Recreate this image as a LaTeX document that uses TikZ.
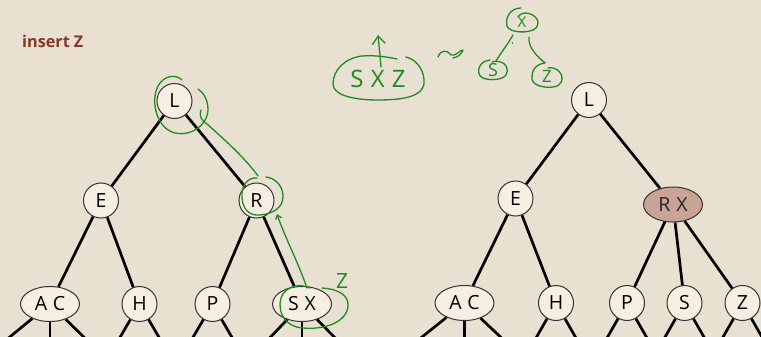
\documentclass[tikz,border=0pt]{standalone}
\usepackage{fontspec}
\setmainfont{Open Sans}
\usetikzlibrary{shapes.geometric,arrows.meta}
\definecolor{bg}{RGB}{232,224,208}
\definecolor{nodefill}{RGB}{245,238,225}
\definecolor{rxfill}{RGB}{200,163,150}
\definecolor{titlered}{RGB}{139,52,40}
\definecolor{ink}{RGB}{30,140,30}
\begin{document}
\begin{tikzpicture}[x=1pt,y=-1pt,
  key/.style={circle,draw=black!80,line width=1pt,fill=nodefill,minimum size=35pt,inner sep=0pt,font=\fontsize{19.5}{20}\selectfont},
  keys/.style={ellipse,draw=black!80,line width=1pt,fill=nodefill,minimum width=59pt,minimum height=35pt,inner sep=0pt,font=\fontsize{19.5}{20}\selectfont},
  edge/.style={line width=2.7pt},
  pen/.style={draw=ink,line width=1.3pt,line cap=round,line join=round},
  hand/.style={text=ink,inner sep=0pt}]
\fill[bg] (0,0) rectangle (761,337);
\useasboundingbox (0,0) rectangle (761,337);
\clip (0,0) rectangle (761,337);

\node[font=\fontsize{16.2}{17}\selectfont\bfseries, text=titlered, anchor=base west, inner sep=0pt] (title) at (22,48) {insert Z};

% left tree
\node[key] (L1) at (174.5,101) {L};
\node[key] (E1) at (101,200.5) {E};
\node[key] (R1) at (256.5,200.5) {R};
\node[keys] (AC1) at (50,304) {A\hspace{0.3em}C};
\node[key] (H1) at (139.5,304) {H};
\node[key] (P1) at (212.5,304) {P};
\node[keys] (SX1) at (302,304) {S\hspace{0.3em}X};

% right tree
\node[key] (L2) at (589,100) {L};
\node[key] (E2) at (515.5,198.5) {E};
\node[keys,fill=rxfill,text=black!85] (RX2) at (673,204.5) {R\hspace{0.3em}X};
\node[keys] (AC2) at (464.5,303) {A\hspace{0.3em}C};
\node[key] (H2) at (556,303) {H};
\node[key] (P2) at (627,303) {P};
\node[key] (S2) at (684.5,303) {S};
\node[key] (Z2) at (742.5,303) {Z};

% stub ends
\coordinate (AC1a) at (0,345);  \coordinate (AC1b) at (50,345);  \coordinate (AC1c) at (92,345);
\coordinate (H1a) at (115.5,345); \coordinate (H1b) at (163.5,345);
\coordinate (P1a) at (188.5,345); \coordinate (P1b) at (236.5,345);
\coordinate (SX1a) at (263,345); \coordinate (SX1b) at (302,345); \coordinate (SX1c) at (342,345);
\coordinate (AC2a) at (412,345); \coordinate (AC2b) at (464.5,345); \coordinate (AC2c) at (509,345);
\coordinate (H2a) at (532,345); \coordinate (H2b) at (580,345);
\coordinate (P2a) at (603,345); \coordinate (P2b) at (651,345);
\coordinate (S2a) at (660.5,345); \coordinate (S2b) at (708.5,345);
\coordinate (Z2a) at (718.5,345); \coordinate (Z2b) at (766.5,345);

% edges
\draw[edge] (L1) -- (E1);
\draw[edge] (L1) -- (R1);
\draw[edge] (E1) -- (AC1);
\draw[edge] (E1) -- (H1);
\draw[edge] (R1) -- (P1);
\draw[edge] (R1) -- (SX1);
\draw[edge] (L2) -- (E2);
\draw[edge] (L2) -- (RX2);
\draw[edge] (E2) -- (AC2);
\draw[edge] (E2) -- (H2);
\draw[edge] (RX2) -- (P2);
\draw[edge] (RX2) -- (S2);
\draw[edge] (RX2) -- (Z2);
\foreach \n/\e in {AC1/AC1a,AC1/AC1b,AC1/AC1c,H1/H1a,H1/H1b,P1/P1a,P1/P1b,SX1/SX1a,SX1/SX1b,SX1/SX1c,
  AC2/AC2a,AC2/AC2b,AC2/AC2c,H2/H2a,H2/H2b,P2/P2a,P2/P2b,S2/S2a,S2/S2b,Z2/Z2a,Z2/Z2b}
  \draw[edge] (\n) -- (\e);

% green annotations on the left tree
\draw[pen] (182,80) .. controls (176,74) and (164,75) .. (158,86) .. controls (151,99) and (155,125) .. (172,132)
  .. controls (188,138) and (207,127) .. (208,110) .. controls (208,100) and (204,93) .. (198,89);
\draw[pen] (201,110) .. controls (199,116) and (201,120) .. (207,124) .. controls (225,140) and (245,158) .. (258,176);
\draw[pen] (257,178) .. controls (246,177) and (241,188) .. (242,198) .. controls (243,210) and (250,216) .. (260,215)
  .. controls (272,214) and (284,208) .. (283,195) .. controls (282,184) and (274,178) .. (266,177);
\draw[pen,-{Straight Barb[length=4pt,width=6pt]}] (307,288) .. controls (298,262) and (284,235) .. (277,214);
\draw[pen] (310,288) .. controls (300,283) and (285,286) .. (281,298) .. controls (277,312) and (285,327) .. (303,328)
  .. controls (325,330) and (347,322) .. (348,306) .. controls (349,295) and (338,289) .. (322,288);
\node[hand,font=\fontsize{21}{21}\selectfont] (zt) at (342,281) {Z};

% green annotations at the top
\draw[pen] (406,57) .. controls (418,60) and (425,72) .. (424,84) .. controls (422,96) and (405,100) .. (378,100)
  .. controls (350,100) and (333,94) .. (333,84) .. controls (333,70) and (345,58) .. (362,56)
  .. controls (375,55) and (388,57) .. (397,59);
\node[hand,font=\fontsize{24}{24}\selectfont] (sxz) at (378,79) {S\hspace{0.3em}X\hspace{0.3em}Z};
\draw[pen,-{Straight Barb[length=8pt,width=13pt]}] (381,67) .. controls (380,55) and (379,45) .. (378,35);
\draw[pen] (438,57) .. controls (441,50) and (446,49) .. (451,55) .. controls (455,57) and (460,50) .. (463,50)
  .. controls (462,54) and (458,57) .. (453,58);

\draw[pen] (521,8) .. controls (510,8) and (505,18) .. (507,26) .. controls (509,33) and (530,34) .. (536,28)
  .. controls (541,22) and (536,14) .. (526,13) .. controls (522,13) and (519,15) .. (518,17);
\node[hand,font=\fontsize{15}{15}\selectfont] (gx) at (522,22) {X};
\draw[pen] (513,35) .. controls (508,44) and (500,54) .. (496,61);
\fill[ink] (512.5,43) circle (0.8pt);
\draw[pen] (529,37) .. controls (528,48) and (537,56) .. (545,63);
\draw[pen] (490,60) .. controls (481,61) and (477,68) .. (479,74) .. controls (481,80) and (494,81) .. (502,78)
  .. controls (509,75) and (509,67) .. (503,63) .. controls (499,61) and (495,61) .. (492,62);
\node[hand,font=\fontsize{18}{18}\selectfont] (gs) at (493,70) {S};
\draw[pen] (545,63) .. controls (535,64) and (531,72) .. (532,79) .. controls (533,86) and (545,88) .. (553,87)
  .. controls (561,86) and (564,80) .. (561,74) .. controls (558,68) and (551,67) .. (548,68);
\node[hand,font=\fontsize{17}{17}\selectfont] (gz) at (547,76) {Z};
\end{tikzpicture}
\end{document}
